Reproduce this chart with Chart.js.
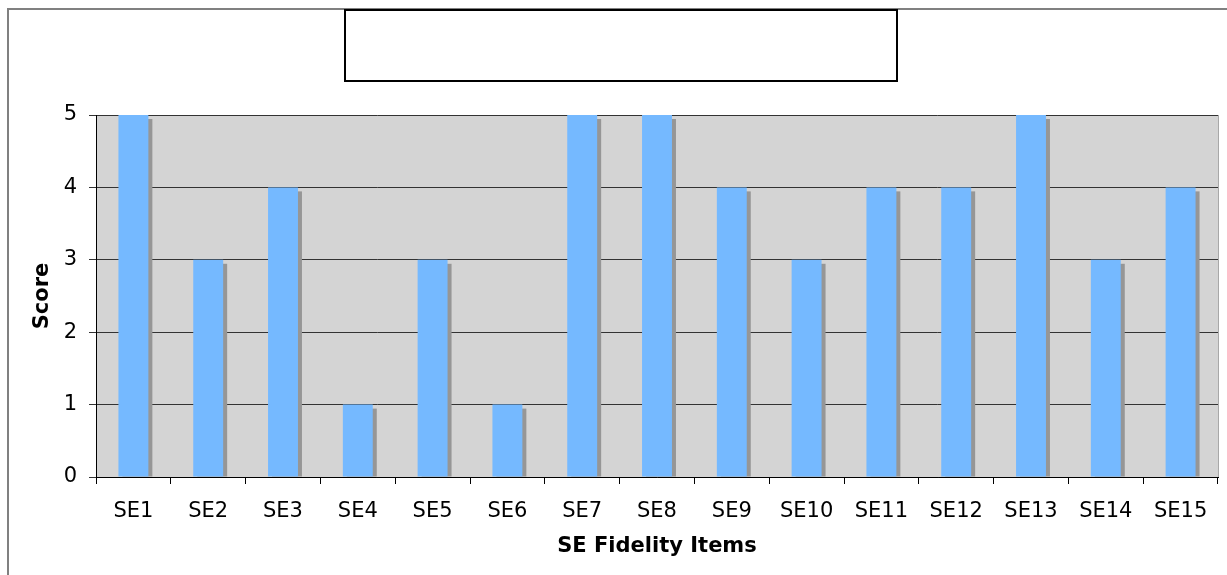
<!DOCTYPE html>
<html>
<head>
<meta charset="utf-8">
<script src="https://cdn.jsdelivr.net/npm/chart.js@4/dist/chart.umd.min.js"></script>
<style>
  html, body { margin: 0; padding: 0; background: #fff; }
  #wrap { position: relative; width: 1227px; height: 575px; }
</style>
</head>
<body>
<div id="wrap"><canvas id="chart" width="1227" height="575"></canvas></div>
<script>
// données
const items = ['SE1', 'SE2', 'SE3', 'SE4', 'SE5', 'SE6', 'SE7', 'SE8', 'SE9', 'SE10', 'SE11', 'SE12', 'SE13', 'SE14', 'SE15'];
const scores = [5, 3, 4, 1, 3, 1, 5, 5, 4, 3, 4, 4, 5, 3, 4];
const yTicks = [0, 1, 2, 3, 4, 5];

const FONT = "'DejaVu Sans', Verdana, sans-serif";

// fond gris, cadre, ombre des barres, boite de titre vide
const decor = {
    id: 'decor',
    beforeDraw(chart) {
        const { ctx, chartArea: a } = chart;
        ctx.save();
        ctx.fillStyle = '#d4d4d4';
        ctx.fillRect(a.left, a.top, a.right - a.left, a.bottom - a.top);
        // cadre extérieur (haut + gauche)
        ctx.strokeStyle = '#808080';
        ctx.lineWidth = 2;
        ctx.beginPath();
        ctx.moveTo(8, 575);
        ctx.lineTo(8, 9);
        ctx.lineTo(1227, 9);
        ctx.stroke();
        // bord droit de la zone de tracé
        ctx.strokeStyle = '#a8a8a8';
        ctx.lineWidth = 1;
        ctx.beginPath();
        ctx.moveTo(a.right + 0.5, a.top);
        ctx.lineTo(a.right + 0.5, a.bottom);
        ctx.stroke();
        // boite de titre
        ctx.strokeStyle = '#000';
        ctx.lineWidth = 2;
        ctx.fillStyle = '#fff';
        ctx.fillRect(345, 10, 552, 71);
        ctx.strokeRect(345, 10, 552, 71);
        ctx.restore();
    },
    beforeDatasetsDraw(chart) {
        const { ctx } = chart;
        const meta = chart.getDatasetMeta(0);
        ctx.save();
        ctx.fillStyle = '#969696';
        meta.data.forEach(bar => {
            const w = bar.width;
            ctx.fillRect(bar.x - w / 2 + 4, bar.y + 4, w, bar.base - bar.y - 4);
        });
        ctx.restore();
    }
};

new Chart(document.getElementById('chart'), {
    type: 'bar',
    data: {
        labels: items,
        datasets: [{
            data: scores,
            backgroundColor: '#75b9ff',
            borderWidth: 0,
            barPercentage: 0.4,
            categoryPercentage: 1.0
        }]
    },
    options: {
        responsive: false,
        animation: false,
        devicePixelRatio: 1,
        layout: { padding: { top: 115, right: 9, left: 0, bottom: 0 } },
        plugins: {
            legend: { display: false },
            tooltip: { enabled: false },
            title: { display: false }
        },
        scales: {
            x: {
                offset: true,
                grid: {
                    offset: true,
                    drawOnChartArea: false,
                    drawTicks: true,
                    tickLength: 7,
                    color: '#000'
                },
                border: { color: '#000', width: 1 },
                ticks: {
                    color: '#000',
                    padding: 15,
                    maxRotation: 0,
                    autoSkip: false,
                    font: { family: FONT, size: 21 }
                },
                title: {
                    display: true,
                    text: 'SE Fidelity Items',
                    color: '#000',
                    padding: { top: 4, bottom: 16 },
                    font: { family: FONT, size: 21, weight: 'bold' }
                },
                afterFit(scale) { scale.height = 98; }
            },
            y: {
                min: 0,
                max: 5,
                afterBuildTicks(scale) { scale.ticks = yTicks.map(v => ({ value: v })); },
                grid: {
                    color: '#333',
                    tickLength: 7,
                    lineWidth: 1
                },
                border: { color: '#000', width: 1 },
                ticks: {
                    color: '#000',
                    padding: 12,
                    font: { family: FONT, size: 21 }
                },
                title: {
                    display: true,
                    text: 'Score',
                    color: '#000',
                    padding: { top: 30, bottom: 0 },
                    font: { family: FONT, size: 21, weight: 'bold' }
                },
                afterFit(scale) { scale.width = 96; }
            }
        }
    },
    plugins: [decor]
});
</script>
</body>
</html>
